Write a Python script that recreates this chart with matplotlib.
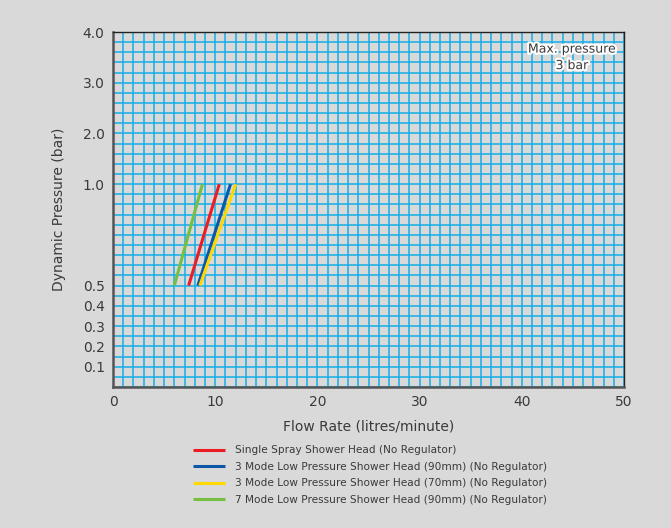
import matplotlib.pyplot as plt
import matplotlib.patheffects as pe
import numpy as np

# series: flow rate (l/min) at 0.5 bar and 1.0 bar
pressure = [0.5, 1.0]
series_names = [
    'Single Spray Shower Head (No Regulator)',
    '3 Mode Low Pressure Shower Head (90mm) (No Regulator)',
    '3 Mode Low Pressure Shower Head (70mm) (No Regulator)',
    '7 Mode Low Pressure Shower Head (90mm) (No Regulator)',
]
flow_single = [7.4, 10.4]
flow_3mode_90 = [8.3, 11.5]
flow_3mode_70 = [8.5, 12.0]
flow_7mode_90 = [6.0, 8.75]
series_colors = ['#ed1c24', '#0b57a8', '#ffd800', '#76bf43']

y_ticks = [0.1, 0.2, 0.3, 0.4, 0.5, 1.0, 2.0, 3.0, 4.0]
y_tick_labels = ['0.1', '0.2', '0.3', '0.4', '0.5', '1.0', '2.0', '3.0', '4.0']
x_ticks = [0, 10, 20, 30, 40, 50]


def fwd(y):
    y = np.asarray(y, dtype=float)
    return np.where(y <= 1, 4 * y, 3 + y)


def inv(t):
    t = np.asarray(t, dtype=float)
    return np.where(t <= 4, t / 4, t - 3)


bg = '#d9d9d9'
text_c = '#3a3a3a'
grid_c = '#12ade9'

fig = plt.figure(figsize=(6.71, 5.28), dpi=100, facecolor=bg)
ax = fig.add_axes([113 / 671, 1 - 387 / 528, (624 - 113) / 671, (387 - 32) / 528])
ax.set_facecolor(bg)
ax.set_yscale('function', functions=(fwd, inv))
ax.set_xlim(0, 50)
ax.set_ylim(0, 4)

# grid
ax.set_xticks(np.arange(0, 51, 1), minor=True)
ax.set_yticks(inv(np.arange(0, 7.01, 0.2)), minor=True)
ax.grid(which='both', color=grid_c, lw=1.1)
ax.set_axisbelow(True)

ax.set_xticks(x_ticks)
ax.set_yticks(y_ticks)
ax.set_yticklabels(y_tick_labels)
ax.tick_params(which='both', length=0, labelsize=10, colors=text_c, pad=6)

for s in ['top', 'right']:
    ax.spines[s].set_color('#222222')
    ax.spines[s].set_linewidth(1)
for s in ['left', 'bottom']:
    ax.spines[s].set_color('#555555')
    ax.spines[s].set_linewidth(1.8)

all_flows = [flow_single, flow_3mode_90, flow_3mode_70, flow_7mode_90]
handles = []
for flows, name, c in zip(all_flows, series_names, series_colors):
    h, = ax.plot(flows, pressure, color=c, lw=2.2, solid_capstyle='butt', label=name)
    handles.append(h)

ax.text(44.9, 3.5, 'Max. pressure\n3 bar', ha='center', va='center', fontsize=9,
        color=text_c, linespacing=1.35,
        path_effects=[pe.withStroke(linewidth=3, foreground='white')])

ax.set_xlabel('Flow Rate (litres/minute)', fontsize=10, color=text_c, labelpad=7)
ax.set_ylabel('Dynamic Pressure (bar)', fontsize=10, color=text_c, labelpad=12)

fig.legend(handles=handles, loc='upper left', bbox_to_anchor=(188 / 671, 1 - 440 / 528),
           frameon=False, fontsize=7.6, labelcolor=text_c, handlelength=3.0,
           handletextpad=0.95, labelspacing=0.62, borderpad=0)

fig.savefig('out.png', dpi=100, facecolor=bg)
